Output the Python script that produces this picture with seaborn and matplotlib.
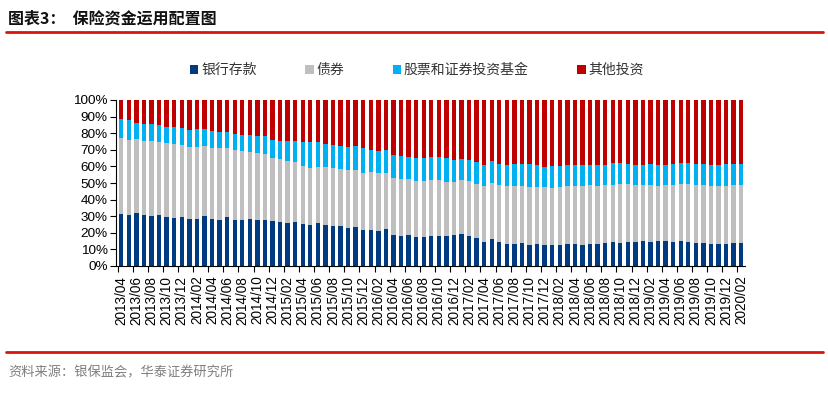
import matplotlib
matplotlib.use("Agg")
import matplotlib.pyplot as plt
import seaborn as sns
import numpy as np
import pandas as pd
from matplotlib.patches import Patch

# ---- data ----
months = []
y, m = 2013, 4
while (y, m) <= (2020, 2):
    months.append(f"{y}/{m:02d}")
    m += 1
    if m > 12:
        y, m = y + 1, 1

series_names = ["银行存款", "债券", "股票和证券投资基金", "其他投资"]
colors = ["#003A80", "#BFBFBF", "#00B0F0", "#C00000"]

bank = [31.3, 30.7, 31.9, 30.7, 30.1, 30.7, 29.3, 28.9, 29.3, 28.3, 28.3, 30.1, 28.1, 27.9, 29.5,
        27.9, 27.7, 28.3, 27.7, 27.7, 27.1, 26.5, 26.1, 26.5, 25.3, 24.5, 25.7, 24.7, 24.3, 24.3,
        23.1, 23.3, 21.7, 21.7, 21.3, 22.1, 18.5, 18.1, 18.7, 17.3, 17.5, 17.9, 17.9, 17.9, 18.5,
        19.3, 18.3, 16.7, 14.7, 16.3, 14.5, 13.3, 13.3, 13.7, 12.9, 13.1, 12.7, 12.4, 12.7, 13.3,
        13.3, 12.9, 13.3, 13.1, 13.7, 14.3, 13.9, 14.5, 14.7, 14.9, 14.7, 15.1, 14.9, 14.7, 15.1,
        14.3, 13.9, 14.1, 13.5, 13.3, 13.5, 13.9, 13.9]
bond = [45.6, 45.2, 44.4, 44.6, 45.0, 43.8, 44.6, 44.4, 43.6, 43.4, 43.4, 42.0, 43.0, 43.0, 41.6,
        42.0, 41.6, 40.4, 40.6, 40.0, 38.0, 37.8, 37.0, 35.9, 35.1, 34.5, 34.1, 34.7, 34.9, 33.9,
        34.7, 34.5, 34.3, 34.9, 34.5, 33.7, 34.3, 34.3, 33.5, 33.9, 33.7, 33.9, 33.9, 32.7, 32.3,
        32.5, 32.9, 32.9, 33.3, 33.9, 34.5, 34.7, 34.7, 34.7, 34.9, 34.7, 34.7, 34.4, 34.7, 34.7,
        34.7, 35.1, 35.3, 35.3, 34.9, 34.7, 35.3, 34.7, 34.3, 33.9, 33.9, 33.3, 33.7, 34.1, 34.1,
        34.9, 35.1, 34.5, 34.9, 35.1, 34.7, 34.9, 34.9]
stock = [11.7, 12.0, 10.0, 10.2, 10.2, 10.2, 10.0, 10.2, 10.0, 10.2, 10.6, 10.2, 10.0, 9.6, 9.4,
         9.8, 9.8, 10.2, 10.0, 10.6, 10.8, 11.2, 12.0, 13.1, 14.5, 15.9, 14.7, 13.9, 13.7, 14.3,
         13.7, 14.3, 15.1, 13.3, 13.5, 13.9, 14.1, 14.1, 13.5, 13.7, 13.9, 13.9, 14.1, 14.3, 13.1,
         12.5, 12.7, 12.8, 12.8, 12.9, 12.4, 12.8, 13.2, 13.0, 13.6, 13.0, 12.4, 13.4, 12.8, 12.8,
         12.6, 12.6, 12.0, 12.2, 12.4, 13.0, 12.6, 12.2, 11.6, 11.8, 12.6, 12.2, 12.4, 12.6, 12.8,
         12.6, 12.6, 12.6, 12.6, 12.4, 13.0, 12.8, 12.8]
other = [11.4, 12.1, 13.7, 14.5, 14.7, 15.3, 16.1, 16.5, 17.1, 18.1, 17.7, 17.7, 18.9, 19.5, 19.5,
         20.3, 20.9, 21.1, 21.7, 21.7, 24.1, 24.5, 24.9, 24.5, 25.1, 25.1, 25.5, 26.7, 27.1, 27.5,
         28.5, 27.9, 28.9, 30.1, 30.7, 30.3, 33.1, 33.5, 34.3, 35.1, 34.9, 34.3, 34.1, 35.1, 36.1,
         35.7, 36.1, 37.6, 39.2, 36.9, 38.6, 39.2, 38.8, 38.6, 38.6, 39.2, 40.2, 39.8, 39.8, 39.2,
         39.4, 39.4, 39.4, 39.4, 39.0, 38.0, 38.2, 38.6, 39.4, 39.4, 38.8, 39.4, 39.0, 38.6, 38.0,
         38.2, 38.4, 38.8, 39.0, 39.2, 38.8, 38.4, 38.4]

title = "图表3：  保险资金运用配置图"
source = "资料来源：银保监会，华泰证券研究所"

# ---- plot ----
sns.set_theme(style="white")
plt.rcParams["font.family"] = ["Liberation Sans", "Noto Sans CJK SC", "DejaVu Sans"]

fig = plt.figure(figsize=(8.29, 3.96), dpi=100)
W, H = 829, 396
ax = fig.add_axes([116 / W, 1 - 266 / H, (745 - 116) / W, (266 - 100) / H])

df = pd.DataFrame({"month": months, "银行存款": bank, "债券": bond,
                   "股票和证券投资基金": stock, "其他投资": other})
bottom = np.zeros(len(months))
for name, col in zip(series_names, colors):
    vals = df[name].to_numpy()
    sns.barplot(x=df["month"], y=vals, bottom=bottom, color=col, width=0.58,
                errorbar=None, ax=ax, linewidth=0, saturation=1)
    bottom = bottom + vals

ax.set_xlim(-0.7, len(months) - 0.5)
ax.set_ylim(0, 100)
ax.set_xlabel("")
ax.set_ylabel("")
ax.set_yticks(np.arange(0, 101, 10))
ax.set_yticklabels([f"{v}%" for v in range(0, 101, 10)], fontsize=9.7, color="black")
idx = list(range(0, len(months), 2))
ax.set_xticks(idx)
ax.set_xticklabels([months[i] for i in idx], rotation=90, fontsize=9.8, color="black")
ax.tick_params(axis="x", which="major", length=0, pad=7)
ax.set_xticks(np.arange(-0.5, len(months) - 1, 2), minor=True)
ax.tick_params(axis="x", which="minor", length=4, width=0.8, color="black", direction="out", bottom=True)
ax.tick_params(axis="y", which="major", length=4, width=0.8, color="black", direction="out", left=True, pad=2)
for s in ["top", "right"]:
    ax.spines[s].set_visible(False)
for s in ["left", "bottom"]:
    ax.spines[s].set_color("black")
    ax.spines[s].set_linewidth(0.8)
ax.grid(False)

handles = [Patch(facecolor=c, edgecolor="none") for c in colors]
fig.legend(handles, series_names, loc="center", bbox_to_anchor=(0.503, 1 - 70 / H), ncol=4,
           frameon=False, handlelength=0.6, handleheight=0.6, handletextpad=0.2,
           columnspacing=3.5, prop={"family": ["Noto Sans CJK SC"], "size": 10},
           labelcolor="#333333")

fig.text(8 / W, 1 - 18 / H, title, fontsize=11.5, fontweight="bold", color="#111111",
         family=["Noto Sans CJK SC", "DejaVu Sans"], va="center", ha="left")
fig.add_artist(plt.Line2D([6 / W, 823 / W], [1 - 32 / H, 1 - 32 / H], color="#D9140E", linewidth=2))
fig.add_artist(plt.Line2D([6 / W, 823 / W], [1 - 352 / H, 1 - 352 / H], color="#D9140E", linewidth=2))
fig.text(8 / W, 1 - 373 / H, source, fontsize=9.5, color="#7f7f7f",
         family=["Noto Sans CJK SC", "DejaVu Sans"], va="center", ha="left")

fig.savefig("out.png", dpi=100)
